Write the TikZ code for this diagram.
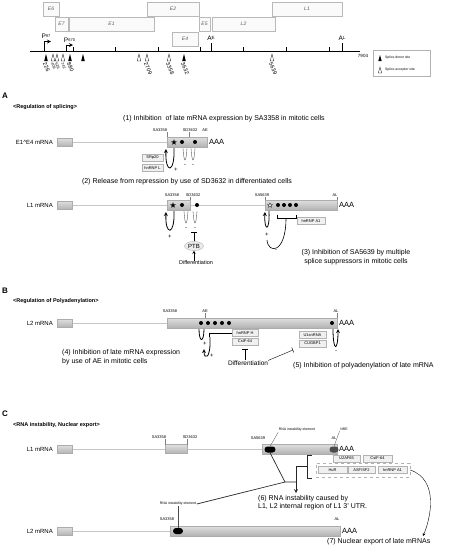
\documentclass[tikz,border=0pt]{standalone}
\usepackage{fontspec}
\setmainfont{Liberation Sans}
\usetikzlibrary{shapes.geometric}
\newcommand{\fsz}[1]{\fontsize{#1}{#1}\selectfont}
\begin{document}
\begin{tikzpicture}[x=1pt, y=-1pt, >=stealth,
  mapbox/.style={draw=gray!55, fill=gray!4, inner sep=0pt, minimum height=14pt, font=\fsz{5}\itshape, text=gray!70!black},
  exon/.style={draw=gray!65, top color=gray!25, bottom color=gray!60},
  intron/.style={draw=gray!45, line width=.5pt},
  sitelbl/.style={font=\fsz{4}, inner sep=.5pt},
  factor/.style={draw=gray!60, fill=gray!12, font=\fsz{4}, inner sep=0pt, minimum width=21pt, minimum height=7pt},
  caption/.style={font=\fontsize{7}{8.5}\selectfont, inner sep=0pt},
  rowlabel/.style={font=\fsz{6}, anchor=east, inner sep=0pt},
  panel/.style={font=\fsz{8}\bfseries, anchor=west, inner sep=0pt},
  heading/.style={font=\fsz{5.5}\bfseries, anchor=west, inner sep=0pt},
  enhancer/.style={line width=.8pt},
  silencer/.style={draw=gray!60!black, line width=.35pt},
  sign/.style={font=\fsz{6}, inner sep=0pt},
  element/.style={fill=black, rounded corners=3pt, minimum width=11pt, minimum height=6pt, inner sep=0pt},
  sitestar/.style={star, star points=5, star point ratio=2.4, minimum size=6pt, inner sep=0pt}]
  \useasboundingbox (0,0) rectangle (453,550);
  %% Genome map
  \node[mapbox, minimum width=16pt] (e6) at (51,9) {E6};
  \node[mapbox, minimum width=52pt] (e2) at (173,9) {E2};
  \node[mapbox, minimum width=70pt] (l1) at (307,9) {L1};
  \node[mapbox, minimum width=13pt] (e7) at (61.5,24) {E7};
  \node[mapbox, minimum width=85pt] (e1) at (111.5,24) {E1};
  \node[mapbox, minimum width=11pt] (e5) at (204.5,24) {E5};
  \node[mapbox, minimum width=63pt] (l2) at (243.5,24) {L2};
  \node[mapbox, minimum width=26pt] (e4) at (185,39) {E4};
  \draw[line width=.8pt] (30,51) -- (360,51);
  \foreach \x in {73,115,158,200,243,286,329}
    \draw[line width=.5pt] (\x,51) -- (\x,47);
  \draw[line width=.7pt] (211,51) -- (211,43);
  \draw[line width=.7pt] (342,51) -- (342,43);
  \node[font=\fsz{6.5}, inner sep=0pt] (ae) at (211,38.5) {A\raisebox{.8pt}{\fsz{4.5}E}};
  \node[font=\fsz{6.5}, inner sep=0pt] (al) at (342,38.5) {A\raisebox{.8pt}{\fsz{4.5}L}};
  \draw[line width=.8pt, ->] (44,51) -- (44,41.5) -- (51,41.5);
  \draw[line width=.8pt, ->] (66,51) -- (66,45) -- (73,45);
  \node[font=\fsz{6.5}, inner sep=0pt] (p97) at (46,36.5) {P\raisebox{.8pt}{\fsz{4}97}};
  \node[font=\fsz{6.5}, inner sep=0pt] (p670) at (69.5,40) {P\raisebox{.8pt}{\fsz{4}670}};
  \foreach \x in {46,70,83,184}
    \fill (\x,54) -- (\x-1.8,61) -- (\x+1.8,61) -- cycle;
  \foreach \x in {53,57,63,139,147,169,272}
    \draw[line width=.3pt] (\x,54) -- (\x-1.8,61) -- (\x+1.8,61) -- cycle;
  \foreach \x/\n in {46/226,70/880,147/2709,169/3358,184/3632,272/5639}
    \node[font=\fsz{5.5}, inner sep=0pt, rotate=-65, anchor=west] (s\n) at (\x-1.5,63) {\n};
  \foreach \x/\n in {53/409,57/526,63/742}
    \node[font=\fsz{3.8}, inner sep=0pt, rotate=-65, anchor=west] (s\n) at (\x-1,63) {\n};
  \node[font=\fsz{4.5}, inner sep=0pt] (len) at (363,56) {7904};
  %% Legend
  \node[draw=gray!60, minimum width=57pt, minimum height=26pt, inner sep=0pt] (legend) at (401.5,63) {};
  \fill (380,55) -- (378.3,61) -- (381.7,61) -- cycle;
  \draw[line width=.3pt] (380,67) -- (378.3,73) -- (381.7,73) -- cycle;
  \node[font=\fsz{3.4}, anchor=west, inner sep=0pt] (ldonor) at (385,58) {Splice donor site};
  \node[font=\fsz{3.4}, anchor=west, inner sep=0pt] (lacc) at (385,70) {Splice acceptor site};

  %% A: regulation of splicing
  \node[panel] (pa) at (2,96) {A};
  \node[heading] (ha) at (13,107) {<Regulation of splicing>};
  \node[caption] (c1) at (224,119) {(1) Inhibition\ \ of late mRNA expression by SA3358 in mitotic cells};
  % E1^E4 mRNA
  \node[rowlabel] (r1) at (53,142) {E1\textasciicircum E4 mRNA};
  \draw[intron] (72,142) -- (167,142);
  \draw[exon] (57,138) rectangle (72,146.5);
  \draw[exon] (167,137) rectangle (207,147);
  \node[font=\fsz{7.5}, anchor=west, inner sep=0pt] (aaa1) at (209,142) {AAA};
  \node[sitestar, fill=black] (st1) at (174,142.3) {};
  \fill (182,142) circle (2pt) (195,142) circle (2pt);
  \node[sitelbl] (sa1) at (160,130) {SA3358};
  \node[sitelbl] (sd1) at (190,130) {SD3632};
  \node[sitelbl] (ae1) at (205,130) {AE};
  \draw[gray, line width=.3pt] (167,132) -- (167,137) (189,132) -- (189,137);
  \draw[enhancer, ->] (174,148) .. controls (175,174) and (165,174) .. (166,149);
  \node[sign] (pl1) at (176,170) {+};
  \foreach \x in {185,193} {
    \draw[silencer] (\x-2,148) .. controls (\x-1,164) and (\x+1,164) .. (\x+2,148);
    \node[sign] at (\x,165.5) {-};
  }
  \node[factor] (srp) at (152.5,157.5) {SRp20};
  \node[factor] (hnl) at (152.5,168) {hnRNP L};
  \node[caption] (c2) at (187,182) {(2) Release from repression by use of SD3632 in differentiated cells};
  % L1 mRNA
  \node[rowlabel] (r2) at (53,205) {L1 mRNA};
  \draw[intron] (72,205) -- (265,205);
  \draw[exon] (57,201) rectangle (72,209.5);
  \draw[exon] (167,200) rectangle (190,210);
  \draw[exon] (265,200) rectangle (337,210);
  \node[font=\fsz{7.5}, anchor=west, inner sep=0pt] (aaa2) at (339,205) {AAA};
  \node[sitestar, fill=black] (st2) at (173,205.3) {};
  \fill (182,205) circle (2pt) (197,205) circle (2pt);
  \node[sitestar, draw=black, fill=white, line width=.3pt, minimum size=5pt] (st3) at (270,205.3) {};
  \foreach \x in {278,284,290,296}
    \fill (\x,205) circle (2pt);
  \node[sitelbl] (sa2) at (172,195) {SA3358};
  \node[sitelbl] (sd2) at (193,195) {SD3632};
  \node[sitelbl] (sa3) at (262,195) {SA5639};
  \node[sitelbl] (al2) at (335,195) {AL};
  \draw[gray, line width=.3pt] (190,197) -- (190,200) (265,197) -- (265,200) (337,197) -- (337,200);
  \draw[enhancer, ->] (174,211) .. controls (175,236) and (165,236) .. (166,212);
  \node[sign] (pl2) at (170,237) {+};
  \foreach \x in {186,195} {
    \draw[silencer] (\x-2,211) .. controls (\x-1,227) and (\x+1,227) .. (\x+2,211);
    \node[sign] at (\x,228.5) {-};
  }
  \node[ellipse, draw=gray!60, fill=gray!15, font=\fsz{6}, inner sep=.5pt, minimum width=19pt, minimum height=9pt] (ptb) at (194,246) {PTB};
  \node[font=\fsz{5.5}, inner sep=0pt] (diff1) at (196,263) {Differentiation};
  \draw[-|] (ptb.north) -- (194,232);
  \draw[->] (diff1.north -| ptb.south) -- (ptb.south);
  \draw[enhancer, ->] (269,211) .. controls (270,232) and (264,232) .. (265,212);
  \node[sign] (pl3) at (267,235) {+};
  \draw[line width=.6pt] (277,214.5) -- (277,218) -- (296,218) -- (296,214.5);
  \draw[line width=.6pt] (286,218) .. controls (286,254) and (268,254) .. (267,240);
  \node[sign] (mi3) at (276,251) {-};
  \node[factor, minimum width=28pt] (hna1) at (311,221) {hnRNP A1};
  \node[caption, align=center] (c3) at (356,257) {(3) Inhibition of SA5639 by multiple\\splice suppressors in mitotic cells};

  %% B: regulation of polyadenylation
  \node[panel] (pb) at (2,291) {B};
  \node[heading] (hb) at (13,301) {<Regulation of Polyadenylation>};
  \node[rowlabel] (r3) at (53,323) {L2 mRNA};
  \draw[intron] (72,323) -- (167,323);
  \draw[exon] (57,319) rectangle (72,327.5);
  \draw[exon] (167,318) rectangle (337,328);
  \node[font=\fsz{7.5}, anchor=west, inner sep=0pt] (aaa3) at (339,323) {AAA};
  \foreach \x in {201,208,215,222,229,332}
    \fill (\x,323) circle (2pt);
  \node[sitelbl] (sa4) at (170,311) {SA3358};
  \node[sitelbl] (ae4) at (205,311) {AE};
  \node[sitelbl] (al4) at (336,311) {AL};
  \draw[gray, line width=.3pt] (205,313) -- (205,318) (337,313) -- (337,318);
  \draw[enhancer] (199,329) .. controls (199,343) and (204,343) .. (204,329);
  \node[sign] (pl4) at (205,344) {+};
  \draw[line width=.6pt] (209,337) -- (209,333) -- (232,333);
  \draw[enhancer, ->] (210,337) .. controls (211,360) and (204,360) .. (204,349);
  \node[sign] (pl5) at (212,356) {+};
  \node[factor, minimum width=26pt] (hnh) at (245,333) {hnRNP H};
  \node[factor, minimum width=26pt] (cstf1) at (245,341.5) {CstF-64};
  \node[font=\fsz{6.5}, inner sep=0pt] (diff2) at (248,363) {Differentiation};
  \draw[-|] (diff2.north -| cstf1.south) -- (245,349);
  \draw[-|] (diff2.north east) -- (293,350);
  \node[factor, minimum width=27pt] (u1) at (312.5,335) {U1snRNA};
  \node[factor, minimum width=27pt] (cug) at (312.5,343.5) {CUGBP1};
  \draw[enhancer, <-] (338,329) .. controls (338,352) and (333,352) .. (333,329);
  \node[sign] (mi6) at (336,352) {-};
  \node[caption, anchor=west, align=left] (c4) at (62,357) {(4) Inhibition of late mRNA expression\\by use of AE in mitotic cells};
  \node[caption, anchor=west] (c5) at (293,366) {(5) Inhibition of polyadenylation of late mRNA};

  %% C: RNA instability, nuclear export
  \node[panel] (pc) at (2,414) {C};
  \node[heading] (hc) at (13,425) {<RNA instability, Nuclear export>};
  % L1 mRNA
  \node[rowlabel] (r4) at (53,449) {L1 mRNA};
  \draw[intron] (72,449) -- (262,449);
  \draw[exon] (57,445) rectangle (72,453.5);
  \draw[exon] (165,444.5) rectangle (187,453.5);
  \draw[exon] (262,444) rectangle (337,454);
  \node[font=\fsz{7.5}, anchor=west, inner sep=0pt] (aaa4) at (339,449) {AAA};
  \node[sitelbl] (sa5) at (159,437) {SA3358};
  \node[sitelbl] (sd5) at (190,437) {SD3632};
  \node[sitelbl] (sa6) at (258,438) {SA5639};
  \node[sitelbl] (al5) at (334,438) {AL};
  \draw[gray, line width=.3pt] (165,439) -- (165,444.5) (187,439) -- (187,444.5);
  \node[element] (rie1) at (270,449.5) {};
  \node[element, fill=gray!60!black, minimum width=9pt] (nre) at (334,449.5) {};
  \node[font=\fsz{3.5}, inner sep=.5pt] (rie1l) at (297,430) {RNA instability element};
  \node[font=\fsz{3.5}, inner sep=.5pt] (nrel) at (344,429) {NRE};
  \draw[gray!60!black, line width=.3pt] (rie1l.south west) -- (rie1.north);
  \draw[gray!60!black, line width=.3pt] (nrel.south west) -- (nre.north);
  % L2 mRNA
  \node[rowlabel] (r5) at (53,531) {L2 mRNA};
  \draw[intron] (72,531) -- (170,531);
  \draw[exon] (57,527) rectangle (72,535.5);
  \draw[exon] (170,526) rectangle (340,536);
  \node[font=\fsz{7.5}, anchor=west, inner sep=0pt] (aaa5) at (342,530.5) {AAA};
  \node[sitelbl] (sa7) at (167,519) {SA3358};
  \node[sitelbl] (al7) at (337,519) {AL};
  \node[element, minimum width=10pt] (rie2) at (178,531) {};
  \node[font=\fsz{3.5}, inner sep=.5pt] (rie2l) at (178,504) {RNA instability element};
  \draw[gray!60!black, line width=.3pt] (rie2l.south) -- (rie2.north);
  % connectors
  \coordinate (j1) at (285,482);
  \coordinate (j2) at (296,482);
  \draw[gray!30!black, line width=.7pt] (rie1.south) -- (j1) -- (j2);
  \draw[gray!30!black, line width=.7pt] (rie2l.east) -- (j1);
  \draw[gray!30!black, line width=.7pt] (312,455) -- (307,455) -- (307,478) -- (312,478);
  \draw[gray!30!black, line width=.7pt, ->] (307,466) -- (296,466) -- (296,493);
  \node[factor, minimum width=27pt] (u2af) at (346.5,458.5) {U2AF65};
  \node[factor, minimum width=29pt] (cstf2) at (377.5,458.5) {CstF-64};
  \node[draw=gray!60, dashed, minimum width=94pt, minimum height=14pt, inner sep=0pt] (exp) at (363,470) {};
  \node[factor, minimum width=29pt] (hur) at (332.5,470) {HuR};
  \node[factor, minimum width=27pt] (asf) at (361.5,470) {ASF/SF2};
  \node[factor, minimum width=29pt] (hna2) at (392.5,470) {hnRNP A1};
  \node[caption, anchor=west, align=left] (c6) at (258,502.5) {(6) RNA instability caused by\\L1, L2 internal region of L1 3' UTR.};
  \node[caption, anchor=west] (c7) at (327,542) {(7) Nuclear export of late mRNAs};
  \draw[->] (exp.east) .. controls (440,480) and (430,520) .. (423,536);
\end{tikzpicture}
\end{document}
